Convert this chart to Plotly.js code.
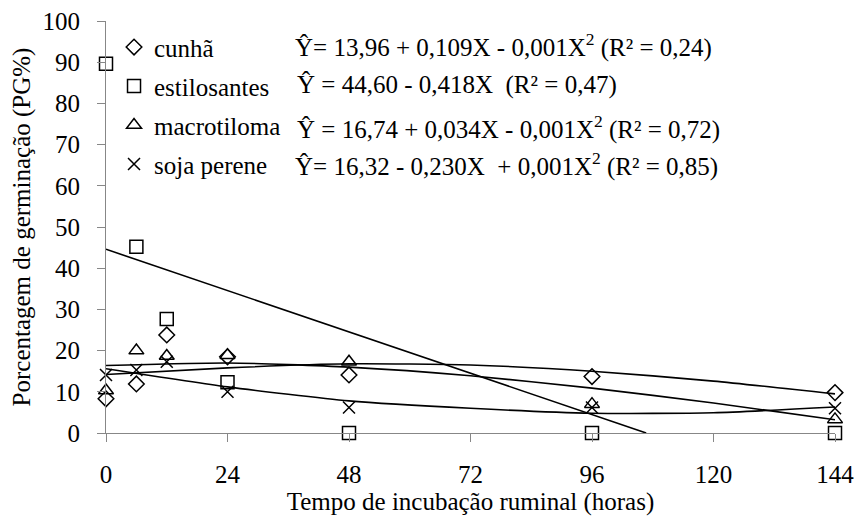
<!DOCTYPE html>
<html>
<head>
<meta charset="utf-8">
<script src="https://cdn.plot.ly/plotly-3.0.1.min.js"></script>
<style>html,body{margin:0;padding:0;background:#fff;}#chart{width:856px;height:516px;}</style>
</head>
<body>
<div id="chart"></div>
<script>
// Observed data
const hours = [0, 6, 12, 24, 48, 96, 144];
const cunha = [8.3, 11.9, 23.8, 18.5, 14.1, 13.7, 9.8];
const estilosantes = [89.6, 45.2, 27.7, 12.3, 0, 0, 0];
const macrotiloma = [10.3, 20.0, 18.7, 18.9, 17.3, 7.0, 3.3];
const sojaPerene = [14.1, 15.3, 17.3, 10.0, 6.2, 6.2, 6.0];

// Fitted curves
const fitHours = [0, 24, 48, 72, 96, 120, 144];
const cunhaFit = [14.2, 15.8, 16.8, 16.5, 15.0, 12.6, 9.5];
const macrotilomaFit = [16.4, 17.0, 16.0, 13.9, 10.9, 7.3, 3.2];
const sojaFit = [15.6, 11.2, 7.8, 6.0, 4.8, 4.9, 6.3];
const estiloFitHours = [0, 106.7];
const estiloFit = [44.6, 0];

const seriesNames = ['cunhã', 'estilosantes', 'macrotiloma', 'soja perene'];
const equations = [
  'Ŷ= 13,96 + 0,109X - 0,001X<sup>2</sup> (R² = 0,24)',
  'Ŷ = 44,60 - 0,418X  (R² = 0,47)',
  'Ŷ = 16,74 + 0,034X - 0,001X<sup>2</sup> (R² = 0,72)',
  'Ŷ= 16,32 - 0,230X  + 0,001X<sup>2</sup> (R² = 0,85)'
];
const xTicks = [0, 24, 48, 72, 96, 120, 144];
const yTicks = [0, 10, 20, 30, 40, 50, 60, 70, 80, 90, 100];

const FONT = 'Liberation Serif';
const FS = 25;
const AX = '#878787';

function fitTrace(x, y) {
  return {x: x, y: y, type: 'scatter', mode: 'lines', showlegend: false, hoverinfo: 'skip',
          line: {color: '#000', width: 1.6, shape: 'spline', smoothing: 0.6}, cliponaxis: true};
}
function markTrace(y, name, sym, size, grp) {
  return {x: hours, y: y, name: name, type: 'scatter', mode: 'markers', legendgroup: grp,
          cliponaxis: false,
          marker: {symbol: sym, size: size, color: '#000', line: {color: '#000', width: 1.5}}};
}

const data = [
  fitTrace(fitHours, cunhaFit),
  fitTrace(estiloFitHours, estiloFit),
  fitTrace(fitHours, macrotilomaFit),
  fitTrace(fitHours, sojaFit),
  markTrace(cunha, seriesNames[0], 'diamond-open', 12, 'a'),
  markTrace(estilosantes, seriesNames[1], 'square-open', 13, 'b'),
  markTrace(macrotiloma, seriesNames[2], 'triangle-up-open', 13, 'c'),
  markTrace(sojaPerene, seriesNames[3], 'x-thin-open', 12, 'd')
];

const eqY = [0.9417, 0.8447, 0.7403, 0.6505];
const eqX = [0.2565, 0.259, 0.259, 0.2565];
const annotations = equations.map((t, i) => ({
  text: t, xref: 'paper', yref: 'paper', x: eqX[i], y: eqY[i], xanchor: 'left', yanchor: 'middle',
  showarrow: false, font: {family: FONT, size: FS, color: '#000'}
}));

const layout = {
  width: 856, height: 516,
  margin: {l: 106, r: 21, t: 21, b: 83},
  paper_bgcolor: '#fff', plot_bgcolor: '#fff',
  font: {family: FONT, size: FS, color: '#000'},
  showlegend: true,
  legend: {x: 0.011, y: 0.992, xanchor: 'left', yanchor: 'top', bgcolor: 'rgba(0,0,0,0)',
           traceorder: 'grouped', tracegroupgap: 3.5, font: {family: FONT, size: FS, color: '#000'}},
  xaxis: {range: [0, 144], tickvals: xTicks, ticktext: xTicks.map(String),
          showline: true, linecolor: AX, linewidth: 1, ticks: 'outside', ticklen: 8, tickcolor: AX,
          showgrid: false, zeroline: false, ticklabelstandoff: 11,
          tickfont: {family: FONT, size: FS, color: '#000'},
          title: {text: 'Tempo de incubação ruminal (horas)', font: {family: FONT, size: FS, color: '#000'}, standoff: 7}},
  yaxis: {range: [0, 100], tickvals: yTicks, ticktext: yTicks.map(String),
          showline: true, linecolor: AX, linewidth: 1, ticks: 'outside', ticklen: 8, tickcolor: AX,
          showgrid: false, zeroline: false, ticklabelstandoff: 12,
          tickfont: {family: FONT, size: FS, color: '#000'},
          title: {text: 'Porcentagem de germinação (PG%)', font: {family: FONT, size: FS, color: '#000'}, standoff: 4}},
  annotations: annotations
};

Plotly.newPlot('chart', data, layout, {displayModeBar: false, staticPlot: true});
</script>
</body>
</html>
